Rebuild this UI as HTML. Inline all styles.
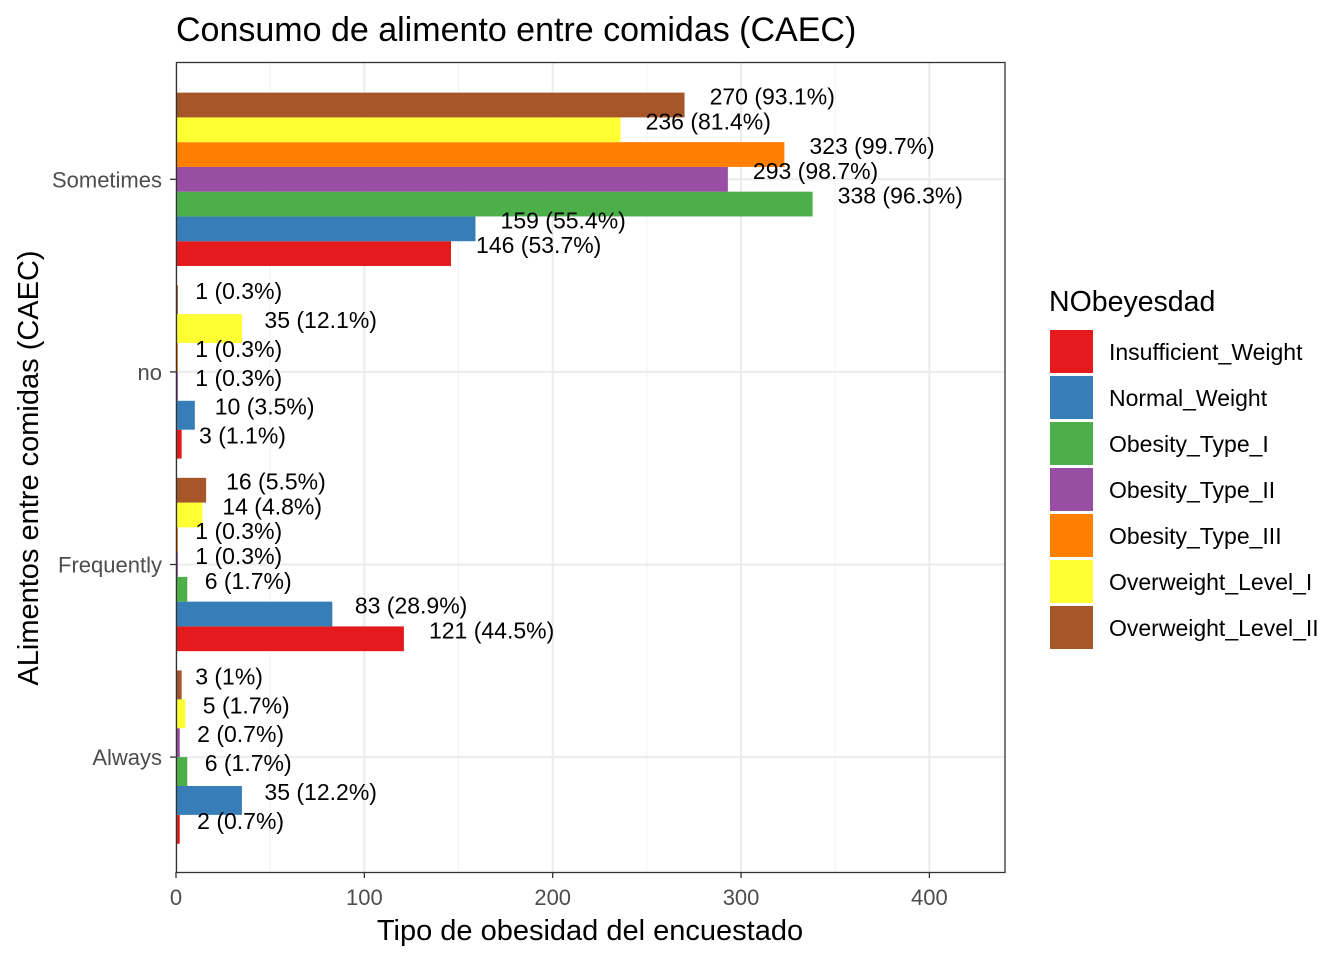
<!DOCTYPE html>
<html><head><meta charset="utf-8"><style>
body{margin:0;background:#fff;}
svg text{font-family:"Liberation Sans",Arial,sans-serif;}
</style></head><body>
<svg id="chart" width="1344" height="960" xmlns="http://www.w3.org/2000/svg">
<rect width="1344" height="960" fill="#fff"/>
<g id="grid"></g>
<g id="bars"></g>
<g id="labels"></g>
<rect x="176.5" y="62.5" width="828.5" height="810" fill="none" stroke="#333" stroke-width="1.3"/>
<g id="axes"></g>
<text x="176" y="41" font-size="34" fill="#000">Consumo de alimento entre comidas (CAEC)</text>
<text x="590" y="940" font-size="29" text-anchor="middle" fill="#000">Tipo de obesidad del encuestado</text>
<text transform="translate(38,468) rotate(-90)" font-size="29" text-anchor="middle" fill="#000">ALimentos entre comidas (CAEC)</text>
<g id="legend"></g>
</svg>
<script>
const categories=["Sometimes","no","Frequently","Always"];
const groups=["Insufficient_Weight","Normal_Weight","Obesity_Type_I","Obesity_Type_II","Obesity_Type_III","Overweight_Level_I","Overweight_Level_II"];
const colors=["#E41A1C","#377EB8","#4DAF4A","#984EA3","#FF7F00","#FFFF33","#A65628"];
const sometimesVals=[146,159,338,293,323,236,270];
const sometimesPct=["53.7%","55.4%","96.3%","98.7%","99.7%","81.4%","93.1%"];
const noVals=[3,10,null,1,1,35,1];
const noPct=["1.1%","3.5%",null,"0.3%","0.3%","12.1%","0.3%"];
const frequentlyVals=[121,83,6,1,1,14,16];
const frequentlyPct=["44.5%","28.9%","1.7%","0.3%","0.3%","4.8%","5.5%"];
const alwaysVals=[2,35,6,2,null,5,3];
const alwaysPct=["0.7%","12.2%","1.7%","0.7%",null,"1.7%","1%"];
const xTicks=[0,100,200,300,400];
const xMinor=[50,150,250,350];

const vals=[sometimesVals,noVals,frequentlyVals,alwaysVals];
const pcts=[sometimesPct,noPct,frequentlyPct,alwaysPct];
const NS="http://www.w3.org/2000/svg";
function X(v){return 176+v*1.8835;}
const catY0=179.3,catStep=192.6;
function Y(i){return catY0+i*catStep;}
function mk(tag,attrs,parent){const e=document.createElementNS(NS,tag);for(const k in attrs)e.setAttribute(k,attrs[k]);parent.appendChild(e);return e;}
const grid=document.getElementById('grid'),bars=document.getElementById('bars'),labels=document.getElementById('labels'),axes=document.getElementById('axes'),legend=document.getElementById('legend');
xMinor.forEach(v=>{const l=mk('line',{x1:X(v),x2:X(v),y1:62,y2:872,stroke:'#f2f2f2','stroke-width':1},grid);

});
xTicks.forEach(v=>{const l=mk('line',{x1:X(v),x2:X(v),y1:62,y2:872,stroke:'#ebebeb','stroke-width':2},grid);


const t=mk('line',{x1:X(v),x2:X(v),y1:872,y2:878,stroke:'#333','stroke-width':1.3},axes);


const tx=mk('text',{x:X(v),y:905,'font-size':22,'text-anchor':'middle',fill:'#4d4d4d'},axes);tx.textContent=v;

});
categories.forEach((c,i)=>{const y=Y(i);
const l=mk('line',{x1:176,x2:1005,y1:y,y2:y,stroke:'#ebebeb','stroke-width':2},grid);


const t=mk('line',{x1:170,x2:176,y1:y,y2:y,stroke:'#333','stroke-width':1.3},axes);


const tx=mk('text',{x:162,y:y+8,'font-size':22,'text-anchor':'end',fill:'#4d4d4d'},axes);tx.textContent=c;


const present=[];vals[i].forEach((v,g)=>{if(v!==null)present.push(g);});
const n=present.length,total=0.9*catStep,slot=total/n,bottom=y+total/2;
present.forEach((g,k)=>{const v=vals[i][g];const yb=bottom-(k+1)*slot;
const r=mk('rect',{x:X(0),y:yb,width:X(v)-X(0),height:slot,fill:colors[g]},bars);


const tx=mk('text',{x:X(v),y:yb+slot/2-0.5,'font-size':23,fill:'#000'},labels);
tx.textContent=v+' ('+pcts[i][g]+')';


const w=tx.getComputedTextLength();tx.setAttribute('x',X(v)+0.2*w);});
});
const lt=mk('text',{x:1049,y:311,'font-size':28.5,fill:'#000'},legend);lt.textContent='NObeyesdad';


groups.forEach((g,k)=>{const y=330+k*46;
const r=mk('rect',{x:1050,y:y,width:43,height:43,fill:colors[k]},legend);


const t=mk('text',{x:1109,y:y+30,'font-size':23,fill:'#000'},legend);t.textContent=g;

});
</script>
</body></html>
